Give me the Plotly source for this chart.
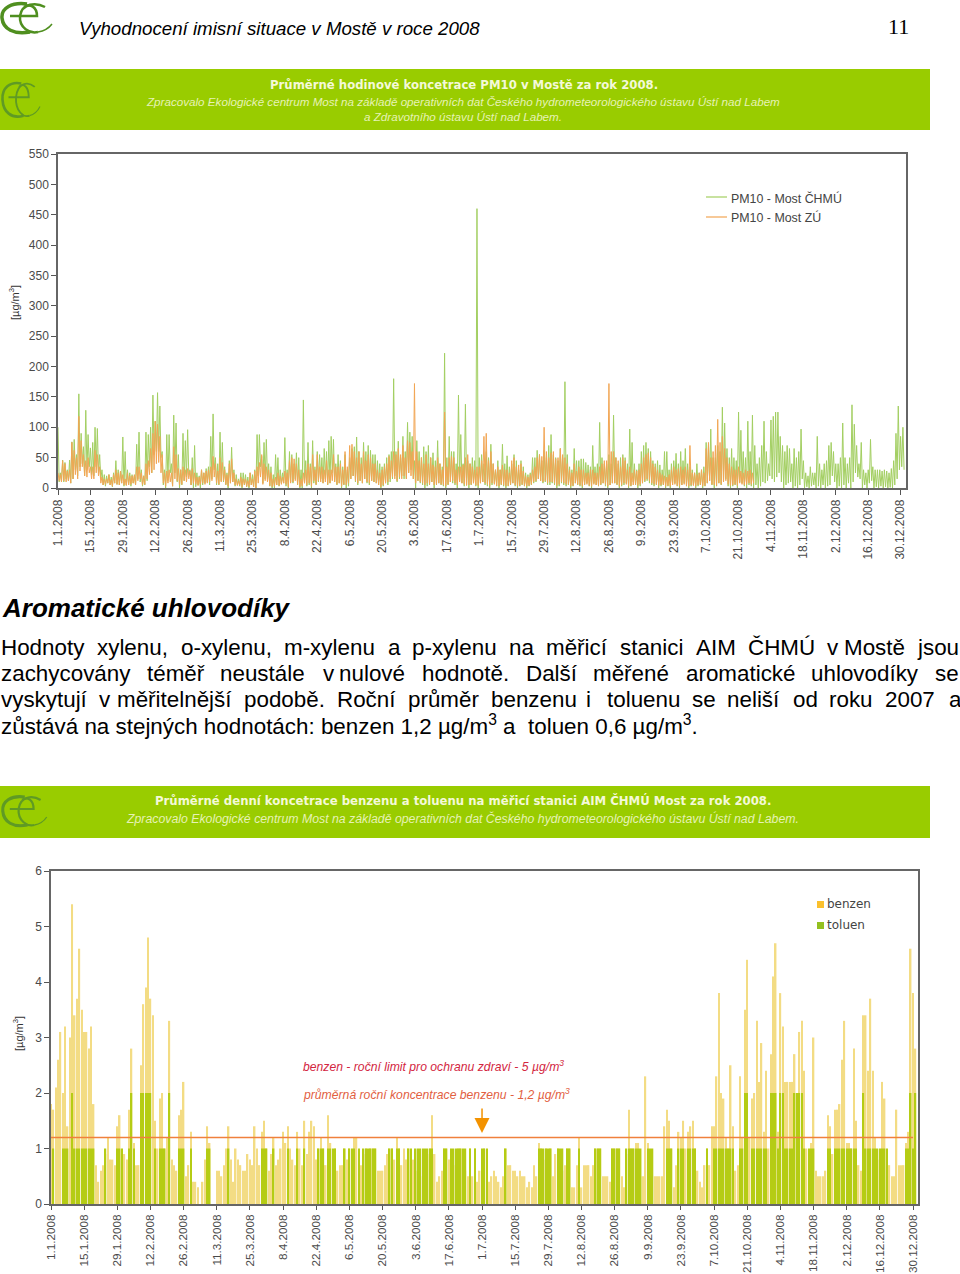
import pandas as pd
import plotly.graph_objects as go

# --- PM10, daily peak / low ---
chmu_peak = [
    100, 25, 46, 42, 30, 46, 76, 80, 55, 155,
    90, 68, 128, 88, 66, 75, 100, 98, 55, 30,
    22, 20, 22, 18, 25, 45, 30, 28, 84, 60,
    30, 25, 22, 20, 72, 92, 30, 20, 92, 88,
    100, 153, 110, 157, 135, 60, 30, 88, 88, 40,
    120, 107, 55, 30, 90, 78, 96, 30, 50, 70,
    25, 20, 30, 25, 32, 35, 85, 122, 50, 40,
    92, 75, 35, 25, 45, 67, 30, 22, 15, 25,
    25, 22, 18, 25, 22, 30, 88, 88, 52, 75,
    80, 40, 35, 22, 55, 50, 30, 25, 83, 30,
    60, 55, 40, 58, 50, 30, 145, 45, 75, 40,
    78, 35, 60, 55, 50, 65, 60, 78, 85, 80,
    40, 55, 45, 35, 55, 30, 50, 65, 68, 84,
    60, 50, 75, 60, 70, 62, 55, 55, 45, 40,
    35, 40, 50, 55, 60, 180, 60, 77, 50, 85,
    60, 108, 92, 85, 45, 78, 60, 50, 68, 60,
    70, 50, 58, 45, 78, 40, 35, 222, 50, 85,
    60, 60, 40, 153, 88, 40, 138, 45, 40, 50,
    45, 460, 50, 55, 40, 60, 50, 72, 40, 30,
    45, 30, 72, 40, 53, 35, 40, 55, 45, 30,
    45, 35, 25, 22, 25, 50, 50, 62, 55, 45,
    62, 50, 70, 88, 55, 50, 45, 65, 50, 175,
    55, 35, 30, 65, 45, 45, 48, 48, 42, 38,
    35, 70, 35, 40, 108, 50, 40, 40, 55, 40,
    120, 50, 40, 50, 55, 50, 40, 97, 75, 40,
    30, 40, 60, 70, 75, 65, 60, 45, 40, 45,
    38, 30, 60, 60, 30, 40, 45, 57, 40, 60,
    45, 65, 40, 35, 30, 25, 40, 25, 30, 35,
    75, 70, 97, 50, 50, 70, 60, 133, 107, 65,
    50, 65, 50, 45, 125, 95, 60, 50, 110, 60,
    120, 70, 40, 50, 70, 110, 60, 40, 112, 118,
    125, 125, 85, 70, 60, 70, 65, 40, 65, 50,
    60, 97, 45, 25, 20, 35, 25, 25, 85, 40,
    30, 40, 45, 70, 75, 60, 40, 40, 50, 107,
    50, 40, 50, 137, 105, 70, 40, 75, 30, 25,
    30, 80, 35, 30, 30, 30, 28, 30, 28, 25,
    32, 45, 90, 135, 85, 100,
]
chmu_low = [
    10, 12, 10, 15, 12, 8, 15, 30, 20, 35,
    40, 20, 30, 35, 22, 20, 35, 25, 15, 5,
    3, 8, 5, 2, 8, 6, 5, 8, 3, 5,
    5, 3, 8, 5, 15, 10, 3, 5, 12, 35,
    25, 55, 60, 60, 50, 5, 0, 12, 25, 3,
    25, 10, 0, 5, 12, 18, 22, 5, 0, 2,
    5, 0, 5, 8, 10, 5, 15, 30, 5, 5,
    12, 10, 5, 0, 8, 10, 3, 5, 3, 0,
    5, 2, 0, 5, 2, 0, 20, 35, 8, 15,
    15, 3, 0, 0, 5, 3, 8, 8, 3, 0,
    10, 8, 15, 5, 0, 0, 8, 3, 5, 0,
    8, 5, 10, 15, 8, 15, 5, 8, 25, 10,
    5, 8, 0, 5, 0, 3, 15, 20, 10, 5,
    12, 8, 15, 8, 5, 12, 10, 8, 5, 0,
    3, 8, 5, 10, 15, 20, 10, 15, 20, 15,
    15, 25, 30, 15, 0, 12, 8, 5, 0, 3,
    5, 10, 0, 5, 8, 5, 3, 0, 5, 10,
    8, 5, 0, 12, 8, 3, 5, 0, 5, 8,
    3, 0, 8, 10, 5, 3, 0, 5, 8, 3,
    0, 5, 3, 0, 3, 5, 8, 3, 0, 3,
    5, 3, 0, 3, 5, 8, 10, 15, 12, 8,
    10, 5, 5, 8, 5, 0, 3, 8, 5, 3,
    5, 0, 3, 8, 5, 3, 0, 5, 8, 3,
    0, 8, 5, 3, 5, 8, 3, 0, 5, 8,
    8, 5, 0, 3, 5, 8, 0, 3, 10, 5,
    0, 3, 8, 10, 12, 8, 5, 3, 5, 0,
    3, 5, 0, 3, 0, 5, 8, 3, 0, 5,
    8, 3, 0, 3, 5, 0, 3, 5, 0, 3,
    8, 12, 5, 0, 3, 8, 5, 10, 15, 3,
    0, 3, 5, 0, 10, 8, 3, 0, 5, 3,
    0, 5, 0, 3, 10, 8, 12, 20, 15, 10,
    18, 25, 10, 0, 5, 8, 10, 0, 3, 0,
    5, 15, 0, 2, 0, 3, 5, 0, 3, 0,
    5, 0, 3, 5, 20, 10, 0, 3, 0, 5,
    0, 8, 0, 10, 25, 18, 15, 0, 5, 0,
    8, 12, 0, 2, 0, 3, 0, 2, 0, 1,
    0, 5, 15, 30, 35, 30,
]
zu_peak = [
    25, 22, 45, 40, 28, 30, 75, 62, 50, 118,
    78, 55, 45, 50, 35, 35, 62, 55, 35, 18,
    15, 15, 22, 14, 22, 30, 25, 28, 22, 15,
    25, 20, 20, 22, 35, 35, 25, 20, 40, 45,
    65, 90, 110, 105, 85, 55, 25, 28, 30, 25,
    68, 55, 32, 30, 35, 30, 32, 28, 32, 25,
    18, 18, 30, 25, 28, 30, 35, 52, 40, 28,
    50, 42, 30, 22, 40, 48, 25, 15, 12, 18,
    15, 15, 12, 25, 15, 28, 35, 42, 55, 40,
    35, 30, 25, 15, 18, 25, 20, 18, 28, 25,
    45, 50, 48, 40, 30, 15, 25, 30, 40, 35,
    55, 30, 55, 35, 35, 30, 45, 30, 30, 55,
    35, 35, 40, 30, 60, 35, 70, 72, 60, 50,
    60, 40, 60, 45, 55, 50, 40, 40, 30, 25,
    30, 35, 40, 52, 45, 60, 55, 65, 55, 70,
    50, 78, 75, 60, 172, 60, 45, 50, 40, 55,
    40, 50, 38, 35, 50, 40, 30, 125, 35, 50,
    52, 50, 30, 35, 35, 38, 50, 55, 40, 35,
    30, 35, 35, 45, 85, 90, 45, 60, 40, 30,
    35, 30, 38, 30, 30, 25, 45, 50, 35, 38,
    40, 28, 20, 18, 22, 30, 35, 50, 55, 52,
    100, 60, 50, 58, 60, 48, 50, 65, 55, 50,
    40, 30, 25, 40, 28, 35, 30, 30, 25, 25,
    30, 30, 25, 25, 35, 40, 45, 45, 172, 60,
    60, 50, 45, 35, 50, 45, 30, 35, 25, 30,
    28, 30, 40, 50, 55, 58, 50, 40, 35, 30,
    25, 22, 20, 18, 22, 30, 35, 30, 32, 35,
    30, 35, 30, 70, 25, 25, 22, 25, 30, 25,
    65, 75, 50, 60, 70, 113, 75, 85, 65, 50,
    40, 35, 30, 30, 35, 28, 25, 30, 28, 30,
    25,
]
zu_low = [
    12, 10, 12, 10, 12, 8, 15, 22, 15, 28,
    35, 20, 18, 25, 15, 15, 25, 20, 8, 5,
    6, 8, 5, 3, 8, 6, 5, 8, 5, 4,
    5, 6, 8, 5, 12, 15, 5, 6, 15, 22,
    25, 30, 40, 42, 25, 8, 3, 8, 10, 3,
    15, 12, 5, 6, 12, 10, 15, 5, 8, 6,
    4, 6, 8, 6, 8, 10, 12, 18, 8, 6,
    10, 12, 6, 3, 8, 10, 5, 4, 5, 2,
    6, 3, 2, 5, 2, 0, 8, 18, 6, 12,
    10, 4, 2, 3, 5, 4, 6, 8, 6, 2,
    8, 10, 12, 6, 2, 3, 8, 5, 8, 3,
    12, 6, 12, 10, 8, 10, 6, 8, 12, 10,
    6, 8, 3, 6, 5, 8, 15, 20, 12, 8,
    12, 8, 15, 10, 8, 12, 10, 8, 5, 2,
    5, 8, 10, 15, 18, 15, 12, 18, 15, 20,
    15, 25, 20, 15, 8, 12, 10, 8, 5, 8,
    6, 10, 5, 6, 8, 6, 5, 3, 6, 10,
    12, 8, 5, 10, 8, 6, 4, 5, 6, 8,
    5, 4, 8, 10, 8, 6, 4, 8, 6, 4,
    3, 6, 5, 3, 4, 6, 8, 5, 3, 4,
    6, 4, 3, 4, 6, 10, 12, 15, 12, 10,
    12, 8, 10, 10, 8, 4, 6, 10, 8, 6,
    6, 3, 4, 8, 6, 5, 3, 6, 6, 4,
    3, 6, 5, 4, 6, 8, 6, 3, 5, 8,
    8, 6, 3, 5, 8, 6, 3, 4, 5, 6,
    4, 6, 8, 12, 15, 12, 8, 6, 6, 4,
    5, 6, 3, 4, 3, 5, 6, 4, 3, 5,
    6, 4, 3, 5, 4, 3, 5, 6, 3, 4,
    8, 12, 6, 5, 4, 8, 6, 10, 12, 6,
    4, 5, 6, 4, 8, 6, 5, 6, 8, 6,
    8,
]

# --- daily benzene and toluene ---
benzen = [
    1.8, 1.7, 2.1, 2.6, 3.1, 2.0, 3.2, 1.4, 3.0, 5.4,
    3.4, 3.7, 4.6, 3.5, 3.1, 3.1, 2.8, 3.2, 1.8, 0.7,
    0.4, 0.6, 0.7, 0.9, 1.2, 0.8, 0.8, 0.7, 1.4, 1.6,
    0.8, 0.9, 0.8, 1.7, 2.8, 1.1, 0.7, 0.7, 2.5, 3.6,
    3.9, 4.8, 3.7, 3.4, 1.5, 1.0, 1.9, 2.0, 1.0, 1.2,
    3.3, 0.8, 0.7, 0.6, 1.6, 1.7, 2.2, 0.5, 0.7, 1.3,
    0.4, 0.4, 0.3, 0, 0.4, 0.8, 1.4, 1.1, 0, 0,
    0.6, 0.6, 0.5, 0.7, 1.0, 1.4, 0.8, 0.4, 1.0, 0.8,
    0.7, 0.6, 0.6, 0.9, 0.8, 0.7, 1.4, 1.0, 0.7, 1.3,
    1.5, 1.0, 0.6, 0.9, 1.2, 0.7, 0.8, 1.0, 1.3, 1.1,
    1.4, 1.0, 0.8, 0.7, 1.3, 1.0, 0.7, 1.5, 0.9, 1.3,
    1.5, 1.4, 0.8, 1.0, 1.2, 1.0, 0.7, 1.6, 1.1, 0.9,
    1.0, 0.6, 0.7, 0.7, 1.0, 0.8, 1.0, 0.9, 1.2, 1.2,
    0.8, 0.7, 0.9, 1.0, 0.9, 1.0, 1.0, 1.0, 0.6, 0.6,
    0.6, 0.7, 0.9, 1.0, 1.0, 0.8, 1.2, 1.0, 0.7, 1.0,
    0.8, 1.0, 0.9, 0.8, 0.6, 0.5, 0.5, 0.6, 0.7, 0.9,
    1.0, 1.6, 0.9, 0.4, 0.5, 0.6, 1.0, 1.0, 0.8, 0.7,
    0.7, 0.7, 1.0, 1.0, 0.7, 0.6, 0.5, 1.0, 0.5, 1.0,
    0.4, 0.6, 0.9, 1.0, 0.4, 0.4, 0.5, 0.6, 0.5, 0.4,
    0.3, 0.5, 1.0, 0.7, 0.7, 0.6, 0.6, 0.5, 0.6, 0.5,
    0.5, 0.3, 0.4, 0.3, 0.7, 0.5, 1.1, 1.0, 0.8, 1.0,
    0.7, 1.0, 0.5, 0.9, 1.0, 0.5, 0.6, 0.7, 1.0, 1.0,
    0.3, 0.3, 0.7, 1.2, 0.3, 0.7, 0.7, 0.7, 0.5, 0.7,
    1.0, 1.0, 1.0, 0.5, 0.5, 0.5, 0.4, 1.0, 1.0, 1.0,
    1.0, 0.5, 0.3, 0.9, 1.7, 1.0, 1.0, 1.1, 1.1, 0.5,
    0.5, 2.3, 1.1, 0.7, 0.5, 0.5, 0.5, 0.5, 0.5, 1.4,
    1.7, 1.5, 1.0, 0.3, 0.7, 1.3, 1.2, 1.5, 1.0, 1.3,
    1.4, 1.5, 1.0, 0.6, 0.4, 0.3, 0.7, 1.0, 0.7, 1.4,
    1.4, 2.3, 3.8, 2.0, 1.9, 1.2, 1.0, 2.5, 1.4, 0.6,
    0.7, 2.3, 1.2, 3.5, 4.4, 1.2, 1.9, 2.0, 3.3, 2.2,
    2.9, 1.3, 2.4, 1.0, 2.7, 4.1, 4.7, 1.3, 3.8, 3.2,
    2.2, 2.2, 2.2, 2.2, 2.7, 1.3, 3.1, 3.3, 2.4, 1.0,
    0.6, 1.1, 3.0, 0.6, 0.5, 0.5, 0.5, 0.6, 1.6, 1.4,
    0.9, 1.7, 1.7, 1.8, 2.6, 3.3, 1.1, 1.1, 1.0, 2.8,
    1.5, 0.7, 0.6, 3.4, 3.4, 2.4, 3.7, 2.4, 1.2, 0.8,
    0.8, 2.2, 1.9, 0.6, 0.7, 0.5, 0.5, 1.7, 0.7, 0.7,
    0.7, 1.1, 1.3, 4.6, 3.8, 2.8,
]
toluen = [
    0, 1, 0, 0, 0, 1, 1, 1, 0, 2,
    1, 1, 1, 1, 1, 1, 1, 1, 1, 0,
    0, 0, 0, 1, 0, 0, 0, 0, 1, 1,
    1, 0, 0, 1, 2, 1, 0, 0, 2, 2,
    2, 2, 2, 0, 1, 0, 1, 1, 1, 0,
    2, 0, 0, 0, 1, 1, 1, 0, 0, 1,
    0, 0, 0, 0, 0, 0, 1, 1, 0, 0,
    0, 0, 0, 0, 0, 1, 0, 0, 0, 0,
    0, 0, 0, 0, 0, 0, 0, 0, 0, 1,
    1, 1, 0, 0, 1, 0, 0, 0, 0, 0,
    1, 0, 0, 0, 1, 0, 0, 1, 0, 0,
    0, 0, 0, 1, 1, 1, 0, 1, 1, 1,
    1, 0, 0, 0, 1, 0, 1, 1, 1, 0,
    1, 0, 1, 1, 1, 1, 1, 1, 0, 0,
    0, 0, 0, 1, 1, 0, 1, 1, 0, 0,
    0, 1, 1, 0, 1, 1, 1, 1, 1, 1,
    1, 1, 0, 0, 0, 0, 1, 1, 0, 1,
    1, 1, 1, 1, 1, 1, 0, 1, 0, 1,
    0, 0, 1, 1, 1, 0, 0, 0, 0, 0,
    0, 0, 1, 0, 0, 0, 0, 0, 0, 0,
    0, 0, 0, 0, 0, 0, 1, 1, 1, 1,
    1, 1, 0, 0, 1, 1, 1, 0, 1, 1,
    0, 0, 0, 1, 0, 0, 0, 0, 0, 0,
    1, 1, 1, 0, 0, 0, 0, 1, 1, 1,
    1, 0, 0, 1, 1, 1, 1, 1, 1, 1,
    0, 0, 1, 1, 1, 0, 0, 0, 0, 0,
    1, 1, 1, 0, 0, 1, 1, 1, 0, 1,
    1, 1, 1, 0, 0, 0, 0, 1, 0, 0,
    1, 1, 1, 1, 1, 1, 1, 1, 1, 0,
    0, 1, 1, 2, 2, 0, 1, 1, 1, 1,
    1, 1, 1, 0, 2, 2, 2, 1, 2, 2,
    1, 1, 1, 1, 2, 2, 2, 2, 1, 0,
    1, 1, 1, 0, 0, 0, 0, 0, 1, 1,
    0, 1, 1, 1, 1, 1, 1, 1, 1, 1,
    1, 0, 0, 2, 1, 1, 1, 1, 1, 1,
    1, 1, 1, 1, 0, 0, 0, 0, 0, 0,
    0, 1, 1, 2, 1, 2,
]
benzen_mean = [1.2, 1.2]

tick_labels = [
    "1.1.2008", "15.1.2008", "29.1.2008", "12.2.2008", "26.2.2008", "11.3.2008", "25.3.2008",
    "8.4.2008", "22.4.2008", "6.5.2008", "20.5.2008", "3.6.2008", "17.6.2008", "1.7.2008",
    "15.7.2008", "29.7.2008", "12.8.2008", "26.8.2008", "9.9.2008", "23.9.2008", "7.10.2008",
    "21.10.2008", "4.11.2008", "18.11.2008", "2.12.2008", "16.12.2008", "30.12.2008",
]
tick_dates = pd.to_datetime(tick_labels, format="%d.%m.%Y")

# body text, one (word, left edge) per word because the lines are justified
line1 = [("Hodnoty", 1), ("xylenu,", 97), ("o-xylenu,", 181), ("m-xylenu", 284), ("a", 388), ("p-xylenu", 412),
         ("na", 509), ("měřicí", 546), ("stanici", 620), ("AIM", 696), ("ČHMÚ", 748), ("v", 827), ("Mostě", 844), ("jsou", 917)]
line2 = [("zachycovány", 1), ("téměř", 147), ("neustále", 220), ("v", 323), ("nulové", 339), ("hodnotě.", 422),
         ("Další", 526), ("měřené", 593), ("aromatické", 686), ("uhlovodíky", 811), ("se", 935)]
line3 = [("vyskytují", 1), ("v", 99), ("měřitelnější", 117), ("podobě.", 244), ("Roční", 337), ("průměr", 408),
         ("benzenu", 491), ("i", 586), ("toluenu", 607), ("se", 692), ("neliší", 727), ("od", 793), ("roku", 829),
         ("2007", 885), ("a", 949)]
line4 = "zůstává na stejných hodnotách: benzen 1,2 µg/m<sup>3</sup> a  toluen 0,6 µg/m<sup>3</sup>."

W, H = 960, 1274


def px(x):
    return x / W


def py(y):
    return 1 - y / H


def label(text, x, y, size, color="#000000", font="Liberation Sans", anchor="left", angle=0):
    # annotations sit about 2 px inside their anchor
    if anchor == "left":
        x -= 2
    return dict(text=text, x=px(x), y=py(y), xref="paper", yref="paper", showarrow=False,
                xanchor=anchor, yanchor="middle", textangle=angle,
                font=dict(family=font, size=size, color=color))


def box(x0, y0, x1, y1, color):
    return dict(type="rect", xref="paper", yref="paper", x0=px(x0), x1=px(x1), y0=py(y1), y1=py(y0),
                fillcolor=color, line_width=0, layer="below")


def key_line(x0, x1, y, color):
    return dict(type="line", xref="paper", yref="paper", x0=px(x0), x1=px(x1), y0=py(y), y1=py(y),
                line=dict(color=color, width=1.2))


def logo(ox, oy, sx, sy, color):
    # the "ec" mark, drawn in a 52x34 box
    strokes = [
        ("M", [(27, 3)], "C", [(12, 1), (1, 7), (2, 17)], "C", [(3, 28), (14, 34), (30, 31)], 3.5),
        ("M", [(45, 6)], "C", [(36, 1), (22, 2), (20, 15)], "C", [(19, 27), (30, 33), (38, 31)], 2.5),
        ("M", [(38, 31)], "C", [(44, 30), (49, 27), (52, 23)], "L", [(52, 23)], 1.5),
        ("M", [(10, 15)], "L", [(37, 15)], "C", [(37, 6), (30, 2), (24, 6)], 2.5),
    ]
    shapes = []
    for stroke in strokes:
        path = ""
        for cmd, points in zip(stroke[0::2], stroke[1::2]):
            path += cmd + " " + ", ".join(f"{px(ox + a * sx):.5f} {py(oy + b * sy):.5f}" for a, b in points) + " "
        shapes.append(dict(type="path", xref="paper", yref="paper", path=path, line=dict(color=color, width=stroke[-1] * min(sx, sy))))
    return shapes


fig = go.Figure()

# hourly look: each day goes up to the peak, then back to the low
def zigzag(peak, low):
    values = []
    for p, l in zip(peak, low):
        values += [p, l]
    return values


chmu_y = zigzag(chmu_peak, chmu_low)
zu_y = zigzag(zu_peak, zu_low)
fig.add_trace(go.Scatter(x=pd.date_range("2008-01-01", periods=len(chmu_y), freq="12h"), y=chmu_y,
                         mode="lines", name="PM10 - Most ČHMÚ", line=dict(color="#a3cf62", width=1),
                         xaxis="x", yaxis="y"))
fig.add_trace(go.Scatter(x=pd.date_range("2008-01-01", periods=len(zu_y), freq="12h"), y=zu_y,
                         mode="lines", name="PM10 - Most ZÚ", line=dict(color="#f2a654", width=1),
                         xaxis="x", yaxis="y"))

days = pd.date_range("2008-01-01", periods=len(benzen), freq="D")
bar_width = 0.62 * 86400000
fig.add_trace(go.Bar(x=days, y=benzen, name="benzen", marker=dict(color="#f3dc84", line_width=0), width=bar_width,
                     xaxis="x2", yaxis="y2"))
fig.add_trace(go.Bar(x=days, y=toluen, name="toluen", marker=dict(color="#b5cc14", line_width=0), width=bar_width,
                     xaxis="x2", yaxis="y2"))
fig.add_trace(go.Scatter(x=[days[0], days[-2]], y=benzen_mean, mode="lines", name="průměr",
                         line=dict(color="#f0803c", width=1.5), xaxis="x2", yaxis="y2"))

axis_font = dict(family="Liberation Sans", size=12, color="#4a4a4a")
xaxis_common = dict(type="date", tickmode="array", tickvals=tick_dates, ticktext=tick_labels, tickangle=-90,
                    ticks="outside", ticklen=5, tickcolor="#555555", tickfont=axis_font, showgrid=False, zeroline=False,
                    showline=True, linecolor="#666666", linewidth=1.5, mirror=True, automargin=False)
yaxis_common = dict(ticks="outside", ticklen=5, tickcolor="#555555", tickfont=axis_font, showgrid=False, zeroline=False,
                    showline=True, linecolor="#666666", linewidth=1.5, mirror=True, automargin=False)

annotations = [
    label("<i>Vyhodnocení imisní situace v Mostě v roce 2008</i>", 79, 28, 18.7),
    label("11", 888, 27, 22, font="Liberation Serif"),
    label("<b>Průměrné hodinové koncetrace PM10 v Mostě za rok 2008.</b>", 464, 85, 11.7, "#f4f9d8", "DejaVu Sans", "center"),
    label("<i>Zpracovalo Ekologické centrum Most na základě operativních dat Českého hydrometeorologického ústavu Ústí nad Labem</i>",
          463, 102, 11.65, "#e6f2b5", anchor="center"),
    label("<i>a Zdravotního ústavu Ústí nad Labem.</i>", 463, 117, 11.65, "#e6f2b5", anchor="center"),
    label("<b>Průměrné denní koncetrace benzenu a toluenu na měřicí stanici AIM ČHMÚ Most za rok 2008.</b>",
          463, 800, 11.7, "#f4f9d8", "DejaVu Sans", "center"),
    label("<i>Zpracovalo Ekologické centrum Most na základě operativních dat Českého hydrometeorologického ústavu Ústí nad Labem.</i>",
          462, 818, 12.3, "#e6f2b5", anchor="center"),
    label("<b><i>Aromatické uhlovodíky</i></b>", 2, 608, 26),
    label("[µg/m<sup>3</sup>]", 14, 303, 11, "#333333", anchor="center", angle=-90),
    label("[µg/m<sup>3</sup>]", 18, 1034, 11, "#333333", anchor="center", angle=-90),
    label("<i>benzen - roční limit pro ochranu zdraví - 5 µg/m<sup>3</sup></i>", 303, 1066, 12.2, "#d3263f"),
    label("<i>průměrná roční koncentrace benzenu - 1,2 µg/m<sup>3</sup></i>", 303, 1094, 12.2, "#e2603f"),
    label(line4, 1, 725, 22.4),
    label("PM10 - Most ČHMÚ", 731, 198, 12.4, "#444444"),
    label("PM10 - Most ZÚ", 731, 217, 12.4, "#444444"),
    label("benzen", 827, 904, 12, "#444444", "DejaVu Sans"),
    label("toluen", 827, 925, 12, "#444444", "DejaVu Sans"),
    dict(x="2008-07-01", y=1.28, xref="x2", yref="y2", text="", showarrow=True, arrowhead=2, arrowsize=2, arrowwidth=1.5,
         arrowcolor="#f39200", ax=0, ay=-26),
]
for words, y in ((line1, 647), (line2, 673), (line3, 699)):
    annotations += [label(word, x, y, 22.4) for word, x in words]

fig.update_layout(
    width=W, height=H, autosize=False, margin=dict(l=0, r=0, t=0, b=0),
    paper_bgcolor="white", plot_bgcolor="white", barmode="overlay", showlegend=False,
    xaxis=dict(xaxis_common, domain=[px(58), px(906)], range=["2008-01-01", "2009-01-01 08:00"], anchor="y"),
    yaxis=dict(yaxis_common, domain=[py(488), py(154)], range=[0, 550], dtick=50, anchor="x"),
    xaxis2=dict(xaxis_common, domain=[px(51), px(918)], range=["2008-01-01", "2009-01-01 02:00"], anchor="y2",
                ticklen=4, tickfont=dict(axis_font, size=11.7)),
    yaxis2=dict(yaxis_common, domain=[py(1204), py(871)], range=[0, 6], dtick=1, anchor="x2"),
    shapes=[
        box(0, 69, 930, 130, "#99cc00"),
        box(0, 786, 930, 838, "#99cc00"),
        key_line(706, 727, 197, "#a3cf62"),
        key_line(706, 727, 217, "#f2a654"),
        box(817, 901, 824, 908, "#fbc02d"),
        box(817, 922, 824, 929, "#93c01f"),
    ] + logo(0, 1, 1.0, 1.0, "#4f8f1f") + logo(1, 80, 0.75, 1.15, "#5f9a24") + logo(1, 794, 0.88, 1.0, "#5f9a24"),
    annotations=annotations,
)

# the default page margin would push the figure 8 px off the window
fig.write_html("out.html", config={"displayModeBar": False}, post_script="document.body.style.margin='0';")
